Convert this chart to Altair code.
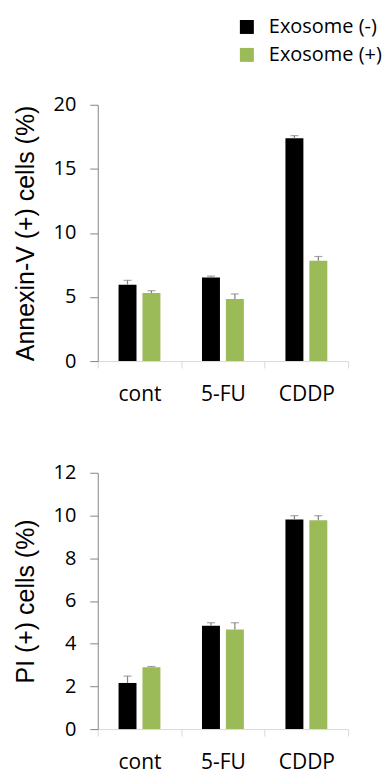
import altair as alt
import pandas as pd

categories = ["cont", "5-FU", "CDDP"]
groups = ["Exosome (-)", "Exosome (+)"]

annexin_minus = [5.96, 6.53, 17.38]
annexin_minus_err = [0.34, 0.10, 0.21]
annexin_plus = [5.31, 4.85, 7.82]
annexin_plus_err = [0.18, 0.39, 0.34]

pi_minus = [2.16, 4.84, 9.81]
pi_minus_err = [0.32, 0.14, 0.18]
pi_plus = [2.90, 4.66, 9.78]
pi_plus_err = [0.03, 0.32, 0.21]

annexin_ticks = [0, 5, 10, 15, 20]
pi_ticks = [0, 2, 4, 6, 8, 10, 12]

colors = ["#000000", "#9BBB59"]
W, H = 251, 257
TICK_FONT = "Open Sans"
TITLE_FONT = "Liberation Sans"


def make_df(minus, minus_err, plus, plus_err):
    rows = []
    for i, c in enumerate(categories):
        rows.append({"cat": c, "grp": groups[0], "v": minus[i], "hi": minus[i] + minus_err[i]})
        rows.append({"cat": c, "grp": groups[1], "v": plus[i], "hi": plus[i] + plus_err[i]})
    return pd.DataFrame(rows)


def panel(df, title, ymax, ticks, show_legend):
    x = alt.X("cat:N", sort=categories, title=None,
              scale=alt.Scale(paddingInner=0, paddingOuter=0),
              axis=alt.Axis(labelAngle=0, labelFont=TICK_FONT, labelFontSize=21,
                            labelColor="#000000", labelPadding=16,
                            domainColor="#d9d9d9", tickColor="#d9d9d9",
                            tickSize=7, tickBand="extent"))
    xo = alt.XOffset("grp:N", sort=groups,
                     scale=alt.Scale(paddingInner=0.25, paddingOuter=0.87))
    y = alt.Y("v:Q", title=title,
              scale=alt.Scale(domain=[0, ymax], nice=False),
              axis=alt.Axis(values=ticks, grid=False, labelFont=TICK_FONT,
                            labelFontSize=20, labelColor="#000000", labelPadding=14,
                            domainColor="#868686", tickColor="#868686", tickSize=8,
                            titleFont=TITLE_FONT, titleFontSize=25,
                            titleFontWeight="normal", titleColor="#000000",
                            titlePadding=15))
    if show_legend:
        legend = alt.Legend(title=None, orient="none", legendX=139.5, legendY=-88,
                            symbolType="square", symbolSize=196, symbolStrokeWidth=0,
                            labelFont=TICK_FONT, labelFontSize=20, labelColor="#000000",
                            labelOffset=12, rowPadding=8, labelLimit=300)
    else:
        legend = None
    color = alt.Color("grp:N", sort=groups,
                      scale=alt.Scale(domain=groups, range=colors), legend=legend)

    base = alt.Chart(df)
    bars = base.mark_bar(size=18).encode(x=x, xOffset=xo, y=y, color=color)
    stems = base.mark_rule(color="#808080", strokeWidth=1.2).encode(
        x=x, xOffset=xo, y=alt.Y("v:Q"), y2="hi:Q")
    caps = base.mark_tick(color="#808080", orient="horizontal", size=8,
                          thickness=1.2).encode(x=x, xOffset=xo, y=alt.Y("hi:Q"))
    return alt.layer(bars, stems, caps).properties(width=W, height=H)


top = panel(make_df(annexin_minus, annexin_minus_err, annexin_plus, annexin_plus_err),
            "Annexin-V (+) cells (%)", 20, annexin_ticks, True)
bottom = panel(make_df(pi_minus, pi_minus_err, pi_plus, pi_plus_err),
               "PI (+) cells (%)", 12, pi_ticks, False)

chart = alt.vconcat(top, bottom, spacing=58).resolve_legend(color="independent").configure_view(
    stroke=None).properties(padding={"left": 5, "top": 8, "right": 0, "bottom": 0})

chart.save("out.html", embed_options={"renderer": "svg", "actions": False})
